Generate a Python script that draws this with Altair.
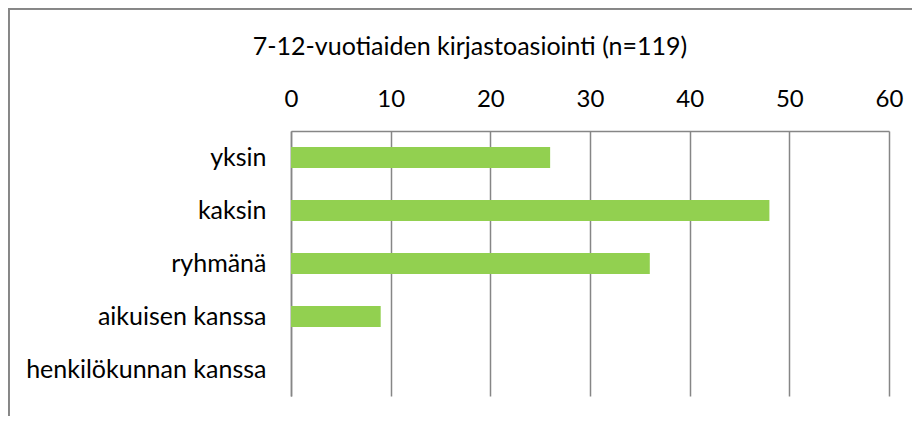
import altair as alt
import pandas as pd

categories = ["yksin", "kaksin", "ryhmänä", "aikuisen kanssa", "henkilökunnan kanssa"]
values = [26, 48, 36, 9, 0]
x_ticks = [0, 10, 20, 30, 40, 50, 60]
title_text = "7-12-vuotiaiden kirjastoasiointi (n=119)"

df = pd.DataFrame({"category": categories, "value": values})

FONT = "Lato"
GRAY = "#868686"

bars = alt.Chart(df).mark_bar(color="#92D050").encode(
    x=alt.X("value:Q",
            scale=alt.Scale(domain=[0, 60], nice=False),
            axis=alt.Axis(orient="top", values=x_ticks, title=None, ticks=False, tickSize=0,
                          labelPadding=20, labelFontSize=24, labelFont=FONT, labelColor="#000000",
                          labelFlush=False,
                          grid=True, gridColor=GRAY, gridWidth=1.5,
                          domain=True, domainColor=GRAY, domainWidth=1.5)),
    y=alt.Y("category:N", sort=categories,
            scale=alt.Scale(paddingInner=0.6, paddingOuter=0.3),
            axis=alt.Axis(title=None, ticks=False, tickSize=0, labelPadding=25, labelLimit=400,
                          labelFontSize=25, labelFont=FONT, labelColor="#000000",
                          domain=True, domainColor=GRAY, domainWidth=1.5, grid=False)),
)

frame_left = alt.Chart(df).mark_rule(color=GRAY, strokeWidth=2).encode(
    x=alt.value(-282.5), y=alt.value(-122.5), y2=alt.value(400)
)
frame_top = alt.Chart(df).mark_rule(color=GRAY, strokeWidth=2).encode(
    x=alt.value(-282.5), x2=alt.value(700), y=alt.value(-122.5)
)

chart = alt.layer(bars, frame_left, frame_top).properties(
    width=598,
    height=265,
    title=alt.TitleParams(title_text, font=FONT, fontSize=25, fontWeight="normal",
                          color="#000000", anchor="middle", dx=-120, offset=-52),
    autosize=alt.AutoSizeParams(type="none"),
    padding={"left": 283, "top": 123, "right": 23, "bottom": 20},
).configure_view(stroke=None)

chart.save("out.html", embed_options={"renderer": "svg", "actions": False})
